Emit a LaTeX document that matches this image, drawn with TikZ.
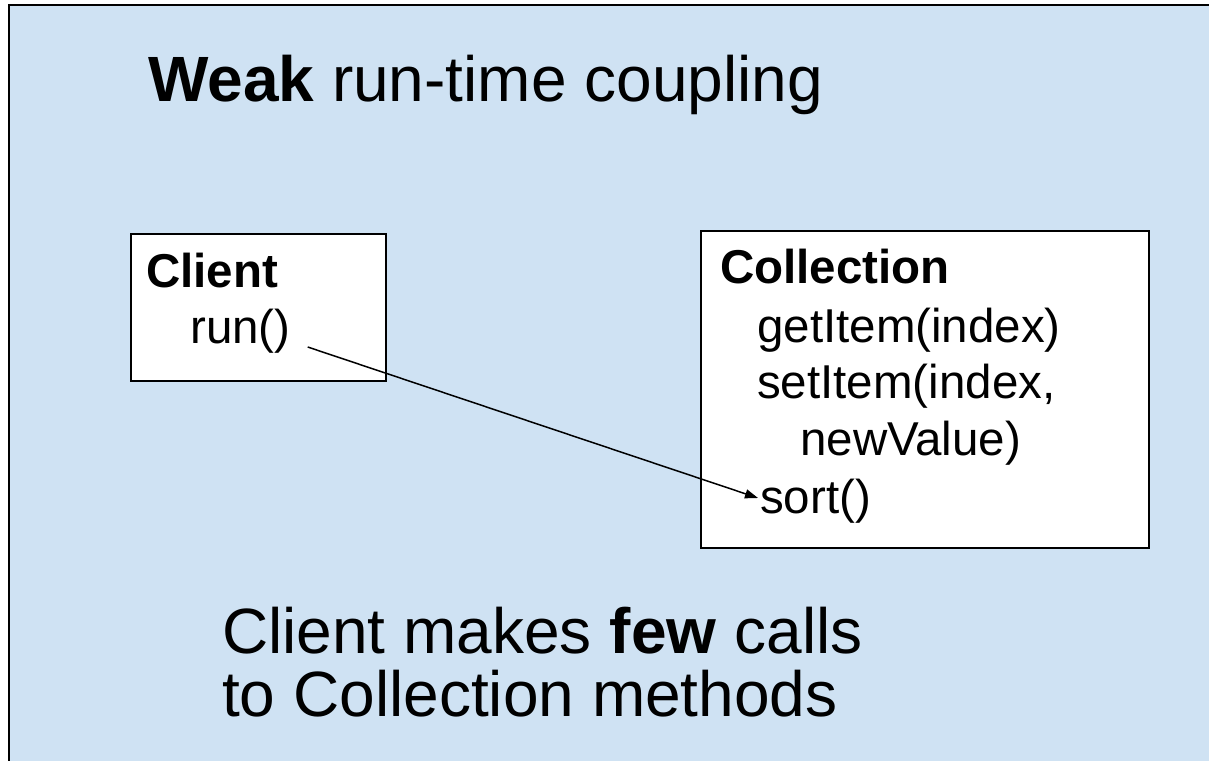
\documentclass[tikz,border=0pt]{standalone}
\usepackage{fontspec}
\setmainfont{Liberation Sans}
\usetikzlibrary{arrows.meta}
\definecolor{slideblue}{HTML}{CFE2F3}
\tikzset{
  box/.style={draw=black, fill=white, line width=1.5bp, inner sep=0pt, anchor=north west},
  bigtext/.style={font=\fontsize{64bp}{64bp}\selectfont, inner sep=0pt, anchor=base west},
  boxtext/.style={font=\fontsize{47.5bp}{47.5bp}\selectfont, inner sep=0pt, anchor=base west},
}

\begin{document}
\begin{tikzpicture}[x=1bp, y=-1bp]
\def\W{1209}
\def\H{761}

\useasboundingbox (0,0) rectangle (\W,\H);

\fill[slideblue, draw=black, line width=2bp] (9,5) rectangle (\W+30,\H+30);

\node[bigtext] (title) at (148,102) {\textbf{Weak} run-time coupling};

\node[box, minimum width=255bp, minimum height=147bp] (clientbox) at (130,233) {};
\node[boxtext] (client) at (146,287) {\textbf{Client}};
\node[boxtext] (run) at (190,343) {run()};

\node[box, minimum width=448bp, minimum height=317bp] (collbox) at (700,230) {};
\node[boxtext] (coll) at (720,283) {\textbf{Collection}};
\node[boxtext] (get) at (757,342) {getItem(index)};
\node[boxtext] (set) at (757,398) {setItem(index,};
\node[boxtext] (newval) at (800,455) {newValue)};
\node[boxtext] (sort) at (760,513) {sort()};

\draw[line width=1.5bp, -{Triangle[length=13bp, width=9bp]}]
  ([xshift=17bp, yshift=-4bp]run.base east) -- ([xshift=-2bp, yshift=15bp]sort.base west);

\node[bigtext] (few) at (222,653) {Client makes \textbf{few} calls};
\node[bigtext] (methods) at (222,716) {to Collection methods};
\end{tikzpicture}
\end{document}
